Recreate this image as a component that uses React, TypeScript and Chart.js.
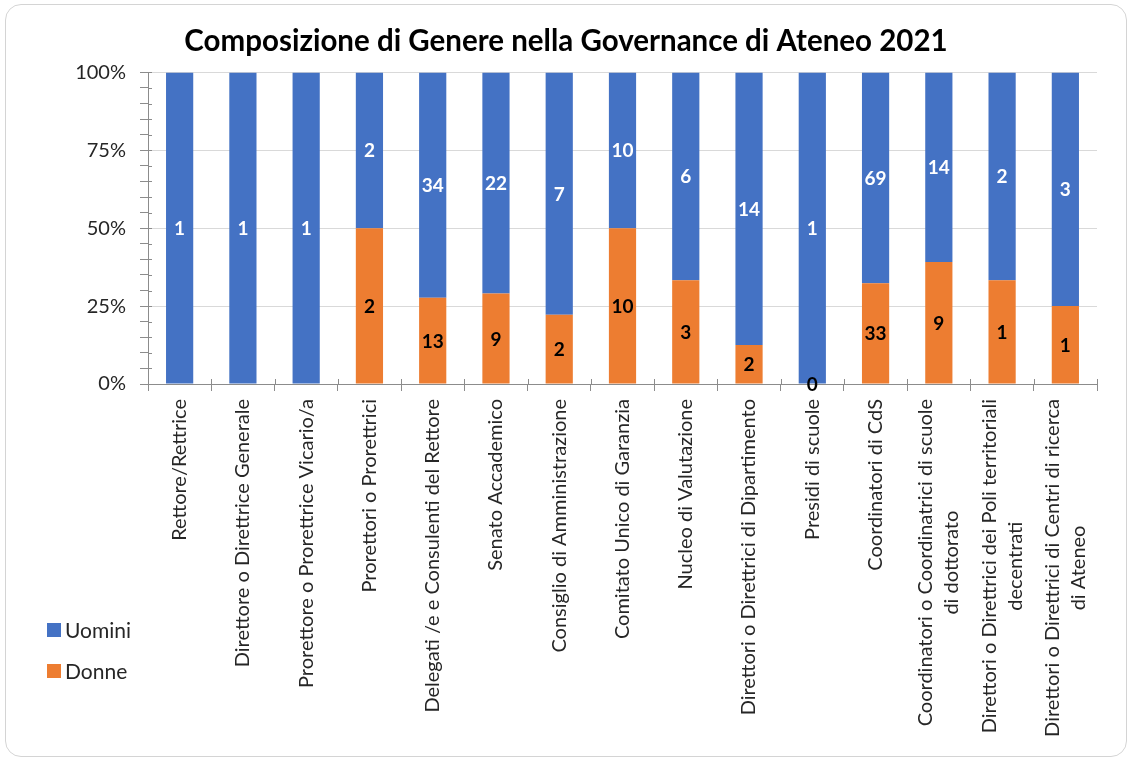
import React, { useEffect, useRef } from 'react';
import { Chart, registerables } from 'chart.js';

Chart.register(...registerables);

const categories: string[][] = [
  ['Rettore/Rettrice'],
  ['Direttore o Direttrice Generale'],
  ['Prorettore o Prorettrice Vicario/a'],
  ['Prorettori o Prorettrici'],
  ['Delegati /e e Consulenti del Rettore'],
  ['Senato Accademico'],
  ['Consiglio di Amministrazione'],
  ['Comitato Unico di Garanzia'],
  ['Nucleo di Valutazione'],
  ['Direttori o Direttrici di Dipartimento'],
  ['Presidi di scuole'],
  ['Coordinatori di CdS'],
  ['Coordinatori o Coordinatrici di scuole', 'di dottorato'],
  ['Direttori o Direttrici dei Poli territoriali', 'decentrati'],
  ['Direttori o Direttrici di Centri di ricerca', 'di Ateneo'],
];

const uomini: number[] = [1, 1, 1, 2, 34, 22, 7, 10, 6, 14, 1, 69, 14, 2, 3];
const donne: (number | null)[] = [null, null, null, 2, 13, 9, 2, 10, 3, 2, 0, 33, 9, 1, 1];

const yMajorTicks: number[] = [0, 25, 50, 75, 100];

const seriesNames = ['Uomini', 'Donne'];
const BLUE = '#4472C4';
const ORANGE = '#ED7D31';
const AXIS = '#8c8c8c';
const FONT = 'Lato, "Open Sans", "Noto Sans", sans-serif';

const total = (i: number) => uomini[i] + (donne[i] ?? 0);
const uominiPct = uomini.map((v, i) => (v / total(i)) * 100);
const donnePct = donne.map((v, i) => (v === null ? null : (v / total(i)) * 100));

const X_LABEL_SIZE = 20;
const X_LABEL_LINE = 26;

const labelPlugin = {
  id: 'valueLabels',
  afterDatasetsDraw(chart: any) {
    const ctx = chart.ctx;
    ctx.save();
    ctx.font = `bold 19px ${FONT}`;
    ctx.textAlign = 'center';
    ctx.textBaseline = 'middle';
    chart.data.datasets.forEach((ds: any, di: number) => {
      const meta = chart.getDatasetMeta(di);
      meta.data.forEach((el: any, i: number) => {
        const raw = ds.rawValues[i];
        if (raw === null || raw === undefined) return;
        const y = (el.y + el.base) / 2;
        ctx.fillStyle = ds.labelColor;
        ctx.fillText(String(raw), el.x, y + 1);
      });
    });
    ctx.restore();
  },
};

const axisTickPlugin = {
  id: 'crossTicks',
  afterDraw(chart: any) {
    const ctx = chart.ctx;
    const ys = chart.scales.y;
    const xs = chart.scales.x;
    const area = chart.chartArea;
    ctx.save();
    ctx.strokeStyle = AXIS;
    ctx.lineWidth = 1;
    ctx.beginPath();
    ys.ticks.forEach((t: any) => {
      const y = Math.round(ys.getPixelForValue(t.value)) + 0.5;
      ctx.moveTo(area.left, y);
      ctx.lineTo(area.left + 4, y);
    });
    const half = (xs.getPixelForValue(1) - xs.getPixelForValue(0)) / 2;
    for (let i = 0; i <= categories.length; i++) {
      const x = Math.round(xs.getPixelForValue(i) - half) + 0.5;
      ctx.moveTo(x, area.bottom);
      ctx.lineTo(x, area.bottom - 5);
    }
    ctx.stroke();
    ctx.restore();
  },
};

const xLabelPlugin = {
  id: 'xLabels',
  afterDraw(chart: any) {
    const ctx = chart.ctx;
    const xs = chart.scales.x;
    const top = chart.chartArea.bottom + 15;
    ctx.save();
    ctx.font = `${X_LABEL_SIZE}px ${FONT}`;
    ctx.fillStyle = '#262626';
    ctx.textAlign = 'center';
    ctx.textBaseline = 'middle';
    categories.forEach((lines, i) => {
      const x = xs.getPixelForValue(i);
      const maxW = Math.max(...lines.map((l) => ctx.measureText(l).width));
      lines.forEach((line, j) => {
        const lx = x + (j - (lines.length - 1) / 2) * X_LABEL_LINE;
        ctx.save();
        ctx.translate(lx, top + maxW / 2);
        ctx.rotate(-Math.PI / 2);
        ctx.fillText(line, 0, 0);
        ctx.restore();
      });
    });
    ctx.restore();
  },
};

const legendPlugin = {
  id: 'customLegend',
  afterDraw(chart: any) {
    const ctx = chart.ctx;
    const items = [
      { name: seriesNames[0], color: BLUE, y: 630 },
      { name: seriesNames[1], color: ORANGE, y: 671 },
    ];
    ctx.save();
    ctx.font = `21px ${FONT}`;
    ctx.textBaseline = 'middle';
    ctx.textAlign = 'left';
    items.forEach((it) => {
      ctx.fillStyle = it.color;
      ctx.fillRect(47, it.y - 7, 14, 14);
      ctx.fillStyle = '#262626';
      ctx.fillText(it.name, 65, it.y + 1);
    });
    ctx.restore();
  },
};

export default function App() {
  const ref = useRef<HTMLCanvasElement | null>(null);

  useEffect(() => {
    document.body.style.margin = '0';
    if (!ref.current) return;
    const chart = new Chart(ref.current, {
      type: 'bar',
      data: {
        labels: categories.map((c) => c.join(' ')),
        datasets: [
          {
            label: seriesNames[1],
            data: donnePct as any,
            backgroundColor: ORANGE,
            // @ts-ignore
            rawValues: donne,
            labelColor: '#000000',
            barPercentage: 0.43,
            categoryPercentage: 1,
          } as any,
          {
            label: seriesNames[0],
            data: uominiPct,
            backgroundColor: BLUE,
            // @ts-ignore
            rawValues: uomini,
            labelColor: '#ffffff',
            barPercentage: 0.43,
            categoryPercentage: 1,
          } as any,
        ],
      },
      options: {
        animation: false,
        responsive: false,
        maintainAspectRatio: false,
        layout: { padding: { left: 35, right: 35, top: 0, bottom: 0 } },
        plugins: {
          legend: { display: false },
          tooltip: { enabled: false },
          title: {
            display: true,
            text: 'Composizione di Genere nella Governance di Ateneo 2021',
            color: '#000000',
            font: { family: FONT, size: 29.5, weight: 'bold', lineHeight: 1.2 },
            padding: { top: 24, bottom: 13 },
          },
        },
        scales: {
          x: {
            stacked: true,
            offset: true,
            ticks: { display: false },
            grid: {
              display: true,
              drawOnChartArea: false,
              drawTicks: true,
              tickLength: 7,
              tickColor: AXIS,
              offset: true,
            },
            border: { display: true, color: AXIS, width: 1 },
            afterFit: (scale: any) => {
              scale.height = 378;
            },
          },
          y: {
            stacked: true,
            min: 0,
            max: 100,
            ticks: {
              stepSize: 5,
              autoSkip: false,
              color: '#262626',
              font: { family: FONT, size: 20 },
              padding: 14,
              callback: (v: any) => (yMajorTicks.includes(Number(v)) ? `${v}%` : ''),
            },
            grid: {
              color: (c: any) => (c.tick && yMajorTicks.includes(c.tick.value) ? '#d9d9d9' : 'rgba(0,0,0,0)'),
              tickColor: AXIS,
              tickLength: 8,
              drawTicks: true,
            },
            border: { display: true, color: AXIS, width: 1 },
            afterFit: (scale: any) => {
              scale.width = 113;
            },
          },
        },
      },
      plugins: [labelPlugin, xLabelPlugin, legendPlugin, axisTickPlugin],
    });
    return () => chart.destroy();
  }, []);

  return (
    <div style={{ position: 'relative', width: 1132, height: 762, background: '#ffffff' }}>
      <canvas ref={ref} width={1132} height={762} style={{ position: 'absolute', left: 0, top: 0 }} />
      <div
        style={{
          position: 'absolute',
          left: 5,
          top: 4,
          width: 1120,
          height: 751,
          border: '1.5px solid #d4d4d4',
          borderRadius: 16,
          pointerEvents: 'none',
        }}
      />
    </div>
  );
}
